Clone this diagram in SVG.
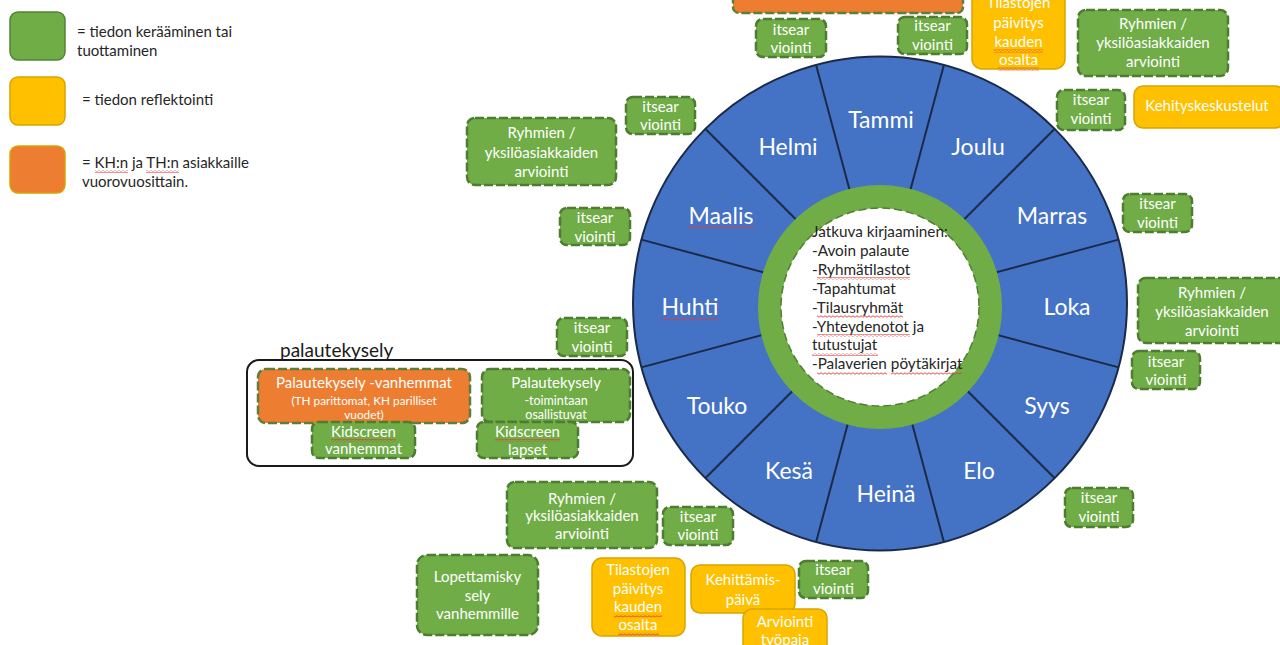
<svg xmlns="http://www.w3.org/2000/svg" width="1280" height="645" viewBox="0 0 1280 645">
<defs>
<pattern id="wavy" width="4" height="3" patternUnits="userSpaceOnUse">
<path d="M0 1.5 Q1 0 2 1.5 T4 1.5" fill="none" stroke="#E03A3A" stroke-width="0.9"/>
</pattern>
</defs>
<style>
.g{fill:#70AD47;stroke:#4E7C30;stroke-width:2.5;stroke-dasharray:9 3}
.y{fill:#FFC000;stroke:#D9A400;stroke-width:1.5}
.o{fill:#ED7D31;stroke:#5B7F3A;stroke-width:2.5;stroke-dasharray:9 3}
.t{font-family:Lato,"Liberation Sans",sans-serif;font-size:15px;fill:#fff;text-anchor:middle}
.s{font-size:12.5px}
.s2{font-size:11.8px}
.lg{font-family:Lato,"Liberation Sans",sans-serif;font-size:15px;fill:#262626}
.ct{font-family:Lato,"Liberation Sans",sans-serif;font-size:15.3px;fill:#262626}
.m{font-family:Lato,"Liberation Sans",sans-serif;font-size:23px;fill:#fff;text-anchor:middle}
.seg{stroke:#1B2A47;stroke-width:2}
.w{fill:url(#wavy)}
</style>

<g id="legend">
<rect x="10" y="12" width="55" height="48" rx="8" fill="#70AD47" stroke="#548235" stroke-width="1.5"/>
<text class="lg" x="77" y="37">= tiedon kerääminen tai</text>
<text class="lg" x="77" y="56">tuottaminen</text>
<rect x="10" y="77" width="55" height="48" rx="8" fill="#FFC000" stroke="#D9A400" stroke-width="1.5"/>
<text class="lg" x="82" y="105">= tiedon reflektointi</text>
<rect x="10" y="146" width="55" height="47" rx="8" fill="#ED7D31" stroke="#D9A400" stroke-width="1.5"/>
<text class="lg" x="82" y="168">= KH:n ja TH:n asiakkaille</text>
<text class="lg" x="82" y="187">vuorovuosittain.</text>
</g>

<g id="wheel">
<circle cx="880" cy="303.5" r="247" fill="#4472C4" stroke="#1B2A47" stroke-width="2"/>
<g class="seg">
<line x1="880" y1="303.5" x2="943.9" y2="64.9"/>
<line x1="880" y1="303.5" x2="1054.7" y2="128.8"/>
<line x1="880" y1="303.5" x2="1118.6" y2="239.6"/>
<line x1="880" y1="303.5" x2="1118.6" y2="367.4"/>
<line x1="880" y1="303.5" x2="1054.7" y2="478.2"/>
<line x1="880" y1="303.5" x2="943.9" y2="542.1"/>
<line x1="880" y1="303.5" x2="816.1" y2="542.1"/>
<line x1="880" y1="303.5" x2="705.3" y2="478.2"/>
<line x1="880" y1="303.5" x2="641.4" y2="367.4"/>
<line x1="880" y1="303.5" x2="641.4" y2="239.6"/>
<line x1="880" y1="303.5" x2="705.3" y2="128.8"/>
<line x1="880" y1="303.5" x2="816.1" y2="64.9"/>
</g>
<text class="m" x="881" y="127.5">Tammi</text>
<text class="m" x="978" y="155">Joulu</text>
<text class="m" x="1052" y="223.5">Marras</text>
<text class="m" x="1067" y="315">Loka</text>
<text class="m" x="1047" y="413.5">Syys</text>
<text class="m" x="979" y="478.5">Elo</text>
<text class="m" x="886" y="501.5">Heinä</text>
<text class="m" x="789" y="478.5">Kesä</text>
<text class="m" x="717" y="413.5">Touko</text>
<text class="m" x="690" y="315">Huhti</text>
<text class="m" x="721" y="223.5">Maalis</text>
<text class="m" x="788" y="155">Helmi</text>
</g>

<g id="center">
<circle cx="880" cy="307" r="110.5" fill="#fff" stroke="#70AD47" stroke-width="23"/>
<circle cx="880" cy="307" r="99" fill="none" stroke="#507E32" stroke-width="1.5" stroke-dasharray="8 4"/>
<text class="ct" x="812" y="237">Jatkuva kirjaaminen:</text>
<text class="ct" x="812" y="255.9">-Avoin palaute</text>
<text class="ct" x="812" y="274.8">-Ryhmätilastot</text>
<text class="ct" x="812" y="293.7">-Tapahtumat</text>
<text class="ct" x="812" y="312.6">-Tilausryhmät</text>
<text class="ct" x="812" y="331.5">-Yhteydenotot ja</text>
<text class="ct" x="812" y="350.4">tutustujat</text>
<text class="ct" x="812" y="369.3">-Palaverien pöytäkirjat</text>
</g>

<g id="top-orange">
<rect class="o" x="733" y="-12" width="230" height="25" rx="6"/>
</g>
<g id="itsear-a">
<rect class="g" x="756" y="19" width="70" height="38" rx="7"/>
<text class="t" x="791" y="34.5">itsear</text><text class="t" x="791" y="53">viointi</text>
</g>
<g id="itsear-b">
<rect class="g" x="898" y="17" width="69" height="37" rx="7"/>
<text class="t" x="932.5" y="31">itsear</text><text class="t" x="932.5" y="50">viointi</text>
</g>
<g id="tilastot-top">
<rect class="y" x="972" y="-8" width="93" height="77" rx="10"/>
<text class="t" x="1018.5" y="8">Tilastojen</text>
<text class="t" x="1018.5" y="28">päivitys</text>
<text class="t" x="1018.5" y="47">kauden</text>
<text class="t" x="1018.5" y="65">osalta</text>
</g>
<g id="ryhmien-top">
<rect class="g" x="1078" y="10" width="150" height="66" rx="8"/>
<text class="t" x="1153" y="29">Ryhmien /</text>
<text class="t" x="1153" y="48">yksilöasiakkaiden</text>
<text class="t" x="1153" y="67">arviointi</text>
</g>
<g id="itsear-c">
<rect class="g" x="1057" y="90" width="68" height="40" rx="7"/>
<text class="t" x="1091" y="105">itsear</text><text class="t" x="1091" y="124">viointi</text>
</g>
<g id="kehityskeskustelut">
<rect class="y" x="1134" y="86" width="150" height="42" rx="9"/>
<text class="t" x="1207" y="111">Kehityskeskustelut</text>
</g>

<g id="itsear-d">
<rect class="g" x="626" y="97" width="69" height="37" rx="7"/>
<text class="t" x="660.5" y="112">itsear</text><text class="t" x="660.5" y="130">viointi</text>
</g>
<g id="ryhmien-left">
<rect class="g" x="467" y="118" width="149" height="67" rx="8"/>
<text class="t" x="541.5" y="138">Ryhmien /</text>
<text class="t" x="541.5" y="158">yksilöasiakkaiden</text>
<text class="t" x="541.5" y="177">arviointi</text>
</g>
<g id="itsear-e">
<rect class="g" x="560" y="208" width="70" height="37" rx="7"/>
<text class="t" x="595" y="223">itsear</text><text class="t" x="595" y="241.5">viointi</text>
</g>
<g id="itsear-f">
<rect class="g" x="557" y="318" width="70" height="38" rx="7"/>
<text class="t" x="592" y="333">itsear</text><text class="t" x="592" y="351.5">viointi</text>
</g>

<g id="itsear-g">
<rect class="g" x="1123" y="194" width="69" height="38" rx="7"/>
<text class="t" x="1157.5" y="209">itsear</text><text class="t" x="1157.5" y="228">viointi</text>
</g>
<g id="ryhmien-right">
<rect class="g" x="1138" y="278" width="150" height="65" rx="8"/>
<text class="t" x="1212" y="298">Ryhmien /</text>
<text class="t" x="1212" y="317">yksilöasiakkaiden</text>
<text class="t" x="1212" y="336">arviointi</text>
</g>
<g id="itsear-h">
<rect class="g" x="1132" y="351" width="68" height="38" rx="7"/>
<text class="t" x="1166" y="366.5">itsear</text><text class="t" x="1166" y="385">viointi</text>
</g>
<g id="itsear-i">
<rect class="g" x="1065" y="488" width="68" height="39" rx="7"/>
<text class="t" x="1099" y="503">itsear</text><text class="t" x="1099" y="521.5">viointi</text>
</g>

<g id="palautekysely">
<text x="280" y="357" font-family="Lato,'Liberation Sans',sans-serif" font-size="19" fill="#1a1a1a">palautekysely</text>
<rect x="247" y="360" width="386" height="106" rx="12" fill="none" stroke="#1a1a1a" stroke-width="2"/>
</g>
<g id="palaute-vanhemmat">
<rect class="o" x="258" y="369" width="212" height="54" rx="8"/>
<text class="t" x="364" y="388">Palautekysely -vanhemmat</text>
<text class="t s2" x="364" y="405">(TH parittomat, KH parilliset</text>
<text class="t s2" x="364" y="419">vuodet)</text>
</g>
<g id="palaute-toimintaan">
<rect class="g" x="482" y="369" width="148" height="53" rx="8"/>
<text class="t" x="556" y="388">Palautekysely</text>
<text class="t s" x="556" y="405">-toimintaan</text>
<text class="t s" x="556" y="419">osallistuvat</text>
</g>
<g id="kidscreen-vanhemmat">
<rect class="g" x="312" y="422" width="103" height="36" rx="7"/>
<text class="t" x="363.5" y="436.5">Kidscreen</text>
<text class="t" x="363.5" y="454">vanhemmat</text>
</g>
<g id="kidscreen-lapset">
<rect class="g" x="477" y="422" width="101" height="36" rx="7"/>
<text class="t" x="527.5" y="436.5">Kidscreen</text>
<text class="t" x="527.5" y="455">lapset</text>
</g>

<g id="ryhmien-bottom">
<rect class="g" x="507" y="482" width="150" height="66" rx="8"/>
<text class="t" x="582" y="504">Ryhmien /</text>
<text class="t" x="582" y="521">yksilöasiakkaiden</text>
<text class="t" x="582" y="538.5">arviointi</text>
</g>
<g id="itsear-j">
<rect class="g" x="663" y="507" width="70" height="38" rx="7"/>
<text class="t" x="698" y="521.5">itsear</text><text class="t" x="698" y="540">viointi</text>
</g>
<g id="lopettamiskysely">
<rect class="g" x="417" y="555" width="121" height="80" rx="10"/>
<text class="t" x="477.5" y="581.5">Lopettamisky</text>
<text class="t" x="477.5" y="601">sely</text>
<text class="t" x="477.5" y="619">vanhemmille</text>
</g>
<g id="tilastot-bottom">
<rect class="y" x="592" y="558" width="93" height="78" rx="10"/>
<text class="t" x="638" y="575">Tilastojen</text>
<text class="t" x="638" y="593.5">päivitys</text>
<text class="t" x="638" y="612">kauden</text>
<text class="t" x="638" y="630">osalta</text>
</g>
<g id="kehittamispaiva">
<rect class="y" x="691" y="565" width="104" height="48" rx="9"/>
<text class="t" x="743" y="585">Kehittämis-</text>
<text class="t" x="743" y="605">päivä</text>
</g>
<g id="itsear-k">
<rect class="g" x="799" y="561" width="69" height="37" rx="7"/>
<text class="t" x="833.5" y="575">itsear</text><text class="t" x="833.5" y="593.5">viointi</text>
</g>
<g id="arviointityopaja">
<rect class="y" x="743" y="609" width="84" height="50" rx="9"/>
<text class="t" x="785" y="626.5">Arviointi</text>
<text class="t" x="785" y="645">työpaja</text>
</g>

<g id="spellcheck-marks">
<rect class="w" x="95" y="170" width="33" height="3"/>
<rect class="w" x="146" y="170" width="33" height="3"/>
<rect class="w" x="688" y="226" width="66" height="3"/>
<rect class="w" x="662" y="317.5" width="56" height="3"/>
<rect class="w" x="817" y="277" width="93" height="3"/>
<rect class="w" x="817" y="315" width="86" height="3"/>
<rect class="w" x="817" y="334" width="93" height="3"/>
<rect class="w" x="812" y="353" width="66" height="3"/>
<rect class="w" x="817" y="372" width="70" height="3"/>
<rect class="w" x="891" y="372" width="71" height="3"/>
<rect class="w" x="994" y="49.5" width="49" height="3"/>
<rect class="w" x="998" y="67.5" width="41" height="3"/>
<rect class="w" x="614" y="614.5" width="48" height="3"/>
<rect class="w" x="618" y="632.5" width="41" height="3"/>
<rect class="w" x="331" y="439" width="65" height="3"/>
<rect class="w" x="495" y="439" width="65" height="3"/>
</g>

<g id="connectors"></g>
</svg>
